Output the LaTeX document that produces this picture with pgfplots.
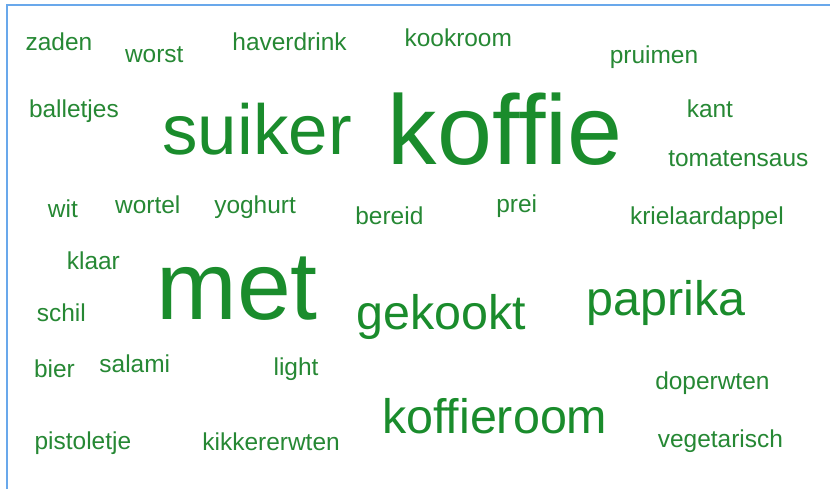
\documentclass[border=0pt]{standalone}
\usepackage{pgfplots}
\pgfplotsset{compat=1.18}
\usepackage{fontspec}
\setmainfont{Liberation Sans}

\definecolor{frameblue}{RGB}{105,168,235}
\definecolor{biggreen}{RGB}{26,140,44}
\definecolor{smallgreen}{RGB}{38,136,52}

\pgfplotsset{
	words/.style={
		only marks, mark=none,
		point meta=explicit symbolic,
		visualization depends on={value \thisrow{size} \as \fsize},
		nodes near coords={\pgfplotspointmeta},
		nodes near coords style={anchor=base, inner sep=0pt,
			font=\fontsize{\fsize bp}{\fsize bp}\selectfont, text=#1},
	},
}

\begin{document}
\begin{tikzpicture}
\begin{axis}[
	scale only axis,
	width=831bp, height=490bp,
	xmin=0, xmax=831,
	ymin=0, ymax=490,
	y dir=reverse,
	hide axis,
	clip=false,
	]
\fill[white] (rel axis cs:0,0) rectangle (rel axis cs:1,1);

% frame, top and left only
\addplot[frameblue, line width=2.6bp, mark=none]
coordinates {(7,490) (7,5) (831,5)};

% big words
\addplot[words=biggreen]
table[meta=word] {
x y size word
506 165 99 koffie
237.5 320 97 met
257.5 155 71 suiker
442 330 48.5 gekookt
667 316 48.5 paprika
495.5 434 48.5 koffieroom
};

% small words
\addplot[words=smallgreen]
table[meta=word] {
x y size word
59 51 24.5 zaden
154.5 63 24.5 worst
290 51 24.5 haverdrink
459 47 24.5 kookroom
655 64 24.5 pruimen
74 118 24.5 balletjes
711 118 24.5 kant
739.5 167 24.5 tomatensaus
63 218 24.5 wit
148 214 24.5 wortel
255.5 214 24.5 yoghurt
390 225 24.5 bereid
517.5 213 24.5 prei
708 225 24.5 krielaardappel
93.5 270 24.5 klaar
61.5 322 24.5 schil
54.5 378 24.5 bier
135 373 24.5 salami
296.5 376 24.5 light
713.5 390 24.5 doperwten
83 450 24.5 pistoletje
271.5 451 24.5 kikkererwten
721.5 448 24.5 vegetarisch
};
\end{axis}
\end{tikzpicture}
\end{document}
